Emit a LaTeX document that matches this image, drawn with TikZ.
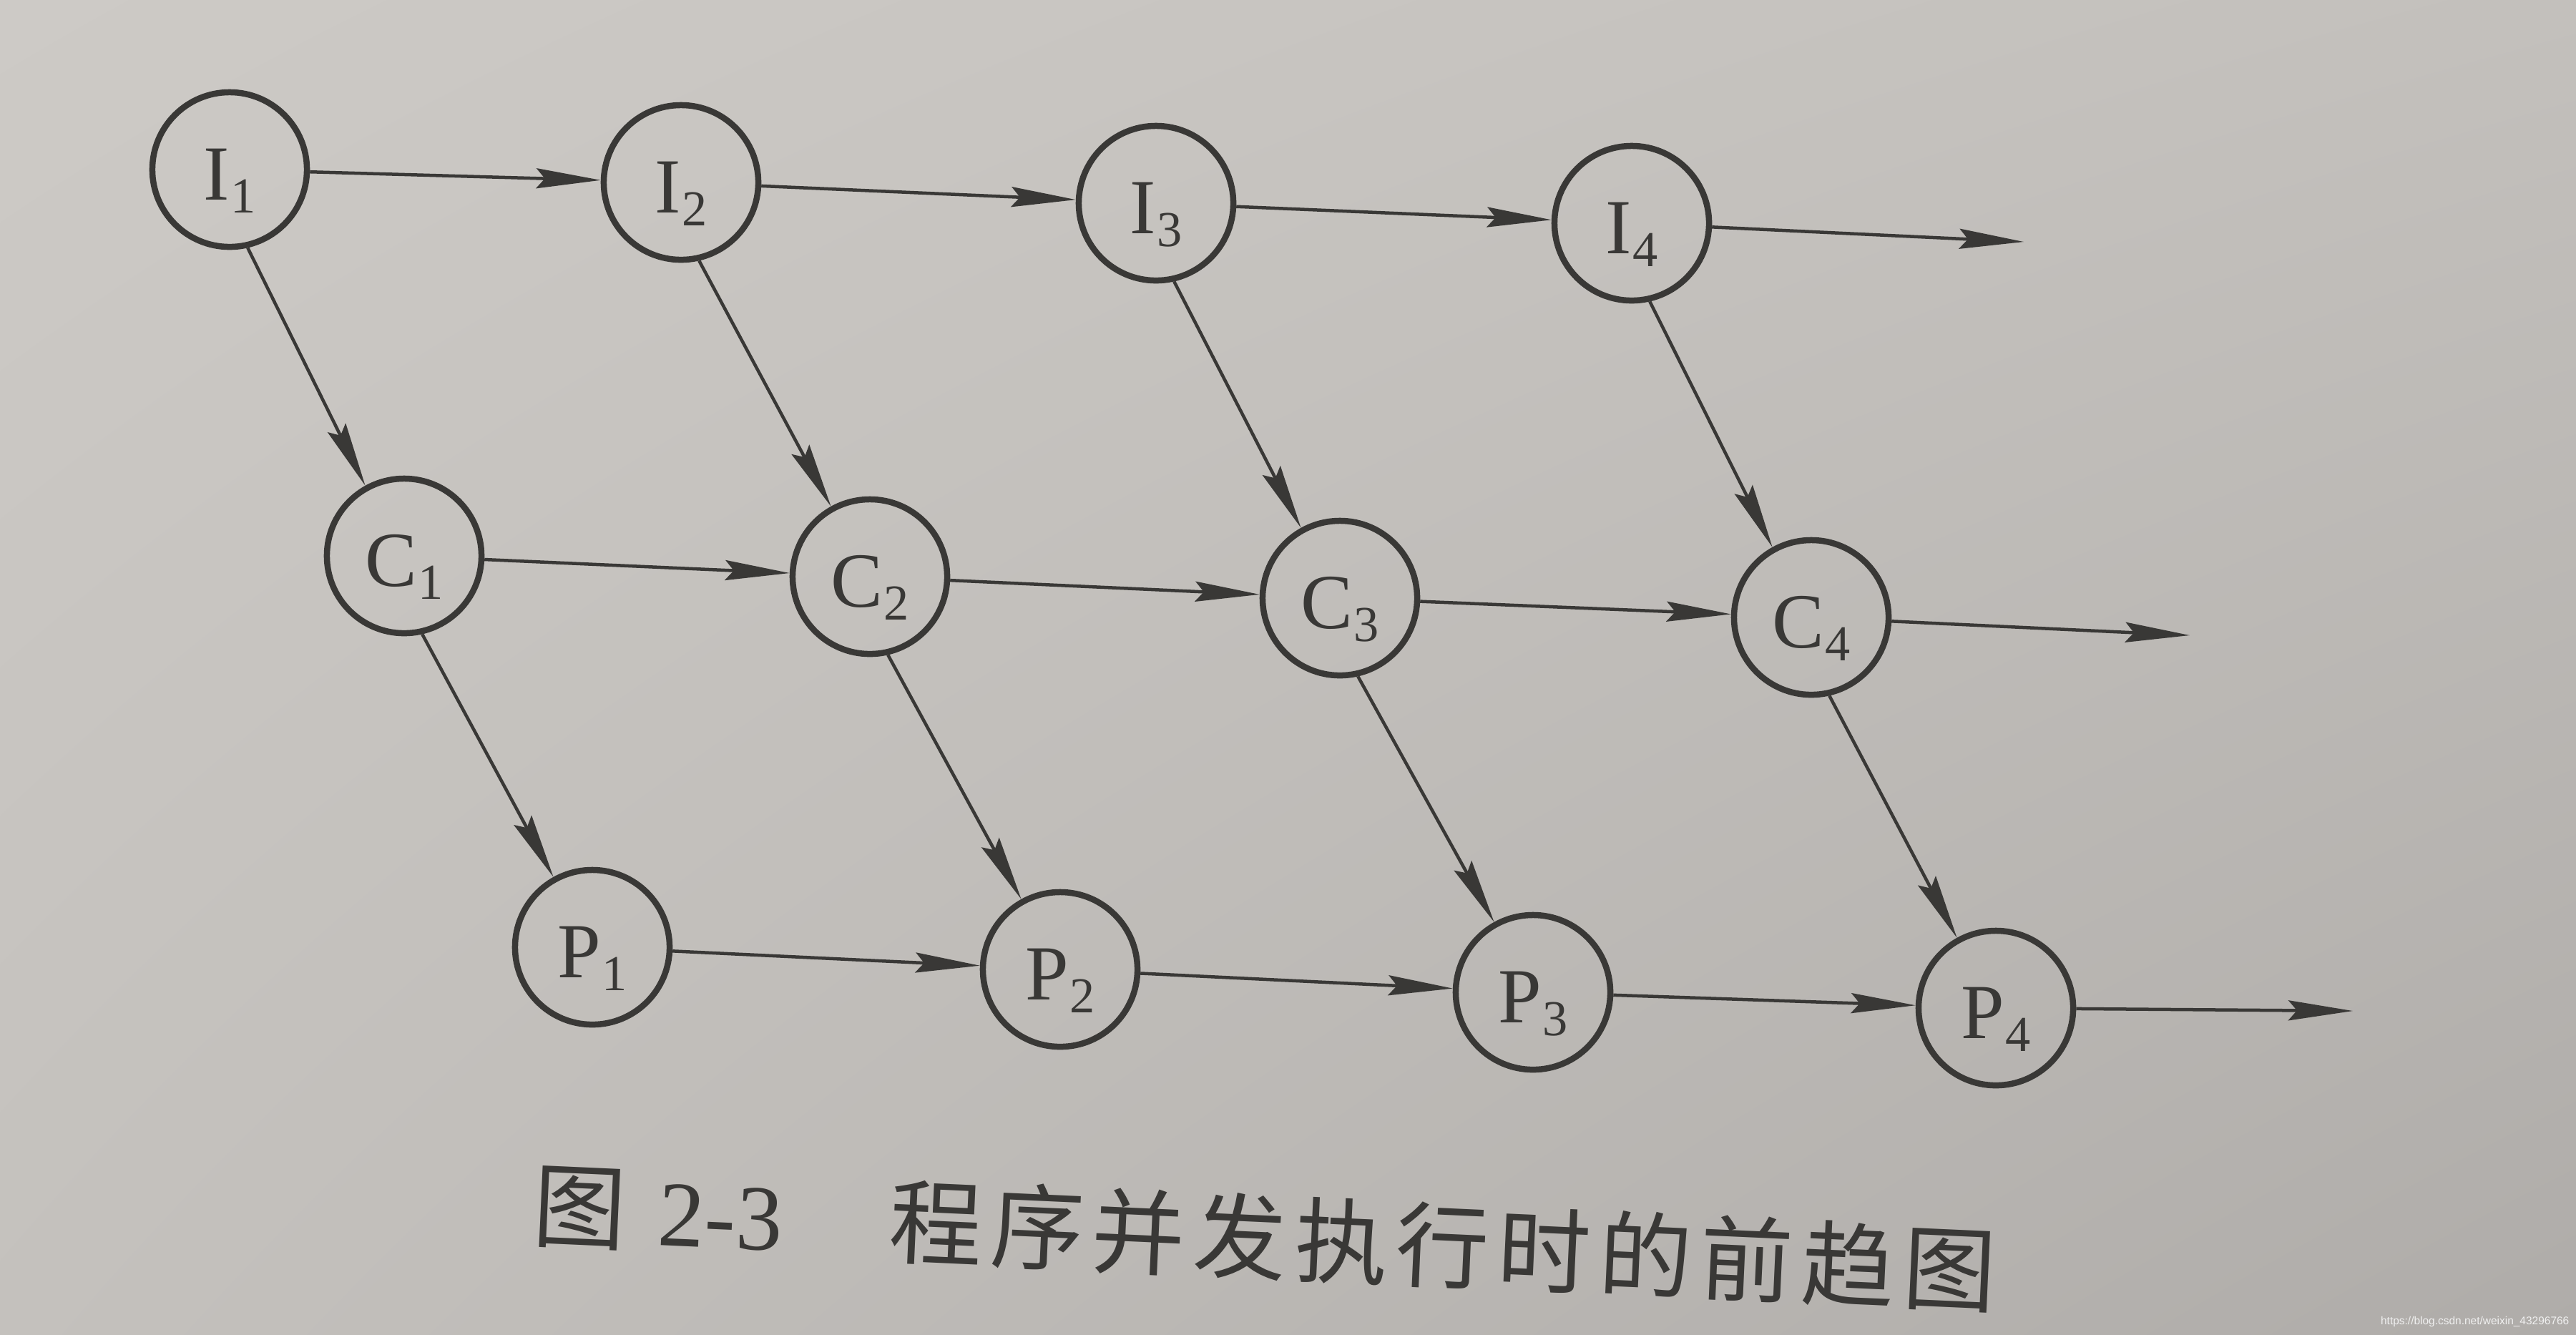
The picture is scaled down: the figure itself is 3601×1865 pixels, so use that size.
\documentclass[tikz,border=0pt]{standalone}
\usepackage{fontspec}
\setmainfont{Liberation Serif}
\newfontfamily\cjk{Noto Sans CJK SC}[LetterSpace=9]
\newfontfamily\wmfont{Liberation Sans}
\usetikzlibrary{arrows.meta,shadings}
\definecolor{ink}{HTML}{393836}
\definecolor{bgA}{HTML}{CDCAC6}
\definecolor{bgB}{HTML}{C3C0BC}
\definecolor{bgC}{HTML}{C4C1BD}
\definecolor{bgD}{HTML}{AFACA9}
\newcommand{\lab}[2]{#1\raisebox{-0.18cm}{\fontsize{20}{20}\selectfont\kern0.02em #2}}
\begin{document}
\begin{tikzpicture}[x=0.01cm,y=-0.01cm,
  st/.style={circle,draw=ink,line width=0.085cm,minimum size=2.16cm,inner sep=0pt,
    text=ink,font=\fontsize{31}{31}\selectfont,text height=1.04cm,text depth=0.2cm},
  ar/.style={draw=ink,line width=0.045cm,-{Stealth[length=0.9cm,width=0.28cm,inset=0.12cm]}}]
\shade[upper left=bgA,upper right=bgB,lower left=bgC,lower right=bgD] (0,0) rectangle (3601,1865);
\useasboundingbox (0,0) rectangle (3601,1865);
% nodes
\node[st] (I1) at (321,237) {\lab{I}{1}};
\node[st] (I2) at (952,255) {\lab{I}{2}};
\node[st] (I3) at (1616,284) {\lab{I}{3}};
\node[st] (I4) at (2281,312) {\lab{I}{4}};
\node[st] (C1) at (565,777) {\lab{C}{1}};
\node[st] (C2) at (1216,806) {\lab{C}{2}};
\node[st] (C3) at (1873,836) {\lab{C}{3}};
\node[st] (C4) at (2532,863) {\lab{C}{4}};
\node[st] (P1) at (828,1324) {\lab{P}{1}};
\node[st] (P2) at (1482,1355) {\lab{P}{2}};
\node[st] (P3) at (2143,1387) {\lab{P}{3}};
\node[st] (P4) at (2790,1409) {\lab{P}{4}};
\coordinate (eI) at (2829,338);
\coordinate (eC) at (3061,888);
\coordinate (eP) at (3289,1413);
% horizontal arrows
\draw[ar] (I1) -- (I2);
\draw[ar] (I2) -- (I3);
\draw[ar] (I3) -- (I4);
\draw[ar] (I4) -- (eI);
\draw[ar] (C1) -- (C2);
\draw[ar] (C2) -- (C3);
\draw[ar] (C3) -- (C4);
\draw[ar] (C4) -- (eC);
\draw[ar] (P1) -- (P2);
\draw[ar] (P2) -- (P3);
\draw[ar] (P3) -- (P4);
\draw[ar] (P4) -- (eP);
% diagonal arrows
\draw[ar] (I1.-77) -- (C1.119);
\draw[ar] (I2.-77) -- (C2.119);
\draw[ar] (I3.-77) -- (C3.119);
\draw[ar] (I4.-77) -- (C4.119);
\draw[ar] (C1.-77) -- (P1.119);
\draw[ar] (C2.-77) -- (P2.119);
\draw[ar] (C3.-77) -- (P3.119);
\draw[ar] (C4.-77) -- (P4.119);
% caption
\node[text=ink,rotate=-2.6,inner sep=0pt] (cap) at (1768,1730)
  {\fontsize{37}{37}\selectfont{\cjk 图}\kern0.35em 2-3\kern1.15em{\cjk 程序并发执行时的前趋图}};
% watermark
\node[anchor=base east,inner sep=0pt,text=white!88!gray] (wm) at (3592,1851)
  {\wmfont\fontsize{4.4}{5}\selectfont https://blog.csdn.net/weixin\_43296766};
\end{tikzpicture}
\end{document}
